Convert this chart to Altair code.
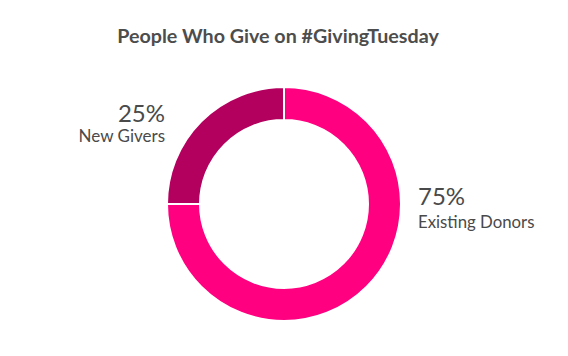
import altair as alt
import pandas as pd

categories = ["Existing Donors", "New Givers"]
values = [75, 25]
pct_labels = ["75%", "25%"]
order = [1, 2]
colors = ["#FF0080", "#B3005F"]

df = pd.DataFrame({"category": categories, "value": values, "pct": pct_labels, "order": order})

arc = alt.Chart(df).mark_arc(outerRadius=117, innerRadius=84, stroke="white", strokeWidth=2).encode(
    theta=alt.Theta("value:Q", stack=True),
    order=alt.Order("order:Q"),
    color=alt.Color("category:N", scale=alt.Scale(domain=categories, range=colors), legend=None),
)

TXT = "#4a4a4a"

text_base = alt.Chart(df).transform_window(
    cum="sum(value)", sort=[alt.SortField("order")], frame=[None, 0]
).transform_calculate(
    mid="datum.cum - datum.value / 2"
)

def label(cat, field, size, align, dx, dy):
    return text_base.transform_filter(alt.datum.category == cat).mark_text(
        radius=140, font="Lato", fontSize=size, color=TXT, align=align,
        baseline="alphabetic", dx=dx, dy=dy
    ).encode(
        theta=alt.Theta("mid:Q", stack=False),
        text=f"{field}:N",
    )

layers = [
    arc,
    label("New Givers", "pct", 24, "right", -20, 17),
    label("New Givers", "category", 17, "right", -20, 37),
    label("Existing Donors", "pct", 24, "left", 35, -98),
    label("Existing Donors", "category", 16.8, "left", 35, -75),
]

chart = alt.layer(*layers).properties(
    width=568, height=304,
    padding={"left": 0, "top": 52, "right": 0, "bottom": 0},
    autosize=alt.AutoSizeParams(type="none"),
    title=alt.TitleParams("People Who Give on #GivingTuesday", font="Lato", fontSize=19.7,
                          fontWeight="bold", color="#4d4d4d", anchor="middle",
                          baseline="alphabetic", offset=9, dx=-6, dy=20),
).configure_view(stroke=None)

chart.save("out.html", embed_options={"renderer": "svg", "actions": False})
